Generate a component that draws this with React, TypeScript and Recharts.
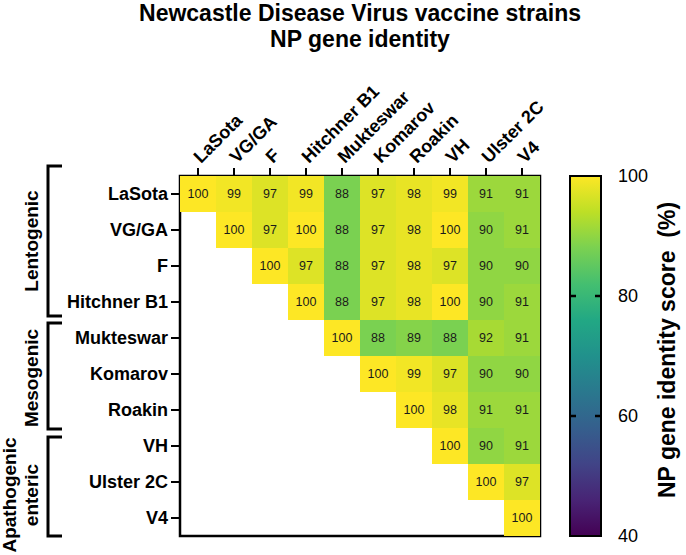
import React from "react";
import {
  ScatterChart,
  Scatter,
  XAxis,
  YAxis,
  ReferenceArea,
  BarChart,
  Bar,
} from "recharts";

const strains = [
  "LaSota",
  "VG/GA",
  "F",
  "Hitchner B1",
  "Mukteswar",
  "Komarov",
  "Roakin",
  "VH",
  "Ulster 2C",
  "V4",
];

// upper triangle of the NP identity matrix (%), null = empty cell
const identityRows: (number | null)[][] = [
  [100, 99, 97, 99, 88, 97, 98, 99, 91, 91],
  [null, 100, 97, 100, 88, 97, 98, 100, 90, 91],
  [null, null, 100, 97, 88, 97, 98, 97, 90, 90],
  [null, null, null, 100, 88, 97, 98, 100, 90, 91],
  [null, null, null, null, 100, 88, 89, 88, 92, 91],
  [null, null, null, null, null, 100, 99, 97, 90, 90],
  [null, null, null, null, null, null, 100, 98, 91, 91],
  [null, null, null, null, null, null, null, 100, 90, 91],
  [null, null, null, null, null, null, null, null, 100, 97],
  [null, null, null, null, null, null, null, null, null, 100],
];

const colorMin = 40;
const colorMax = 100;
const colorTicks = [40, 60, 80, 100];
const innerTicks = [60, 80];

const FONT = "'Liberation Sans', Arial, Helvetica, sans-serif";

// viridis stops, 0 -> 1
const VIRIDIS = [
  "#440154", "#482475", "#414487", "#355f8d", "#2a788e", "#21918c",
  "#22a884", "#44bf70", "#7ad151", "#bddf26", "#fde725",
];

function hexToRgb(h: string) {
  const n = parseInt(h.slice(1), 16);
  return [(n >> 16) & 255, (n >> 8) & 255, n & 255];
}

function viridis(v: number) {
  let t = (v - colorMin) / (colorMax - colorMin);
  t = Math.max(0, Math.min(1, t));
  const pos = t * (VIRIDIS.length - 1);
  const i = Math.min(Math.floor(pos), VIRIDIS.length - 2);
  const f = pos - i;
  const a = hexToRgb(VIRIDIS[i]);
  const b = hexToRgb(VIRIDIS[i + 1]);
  const c = a.map((x, k) => Math.round(x + (b[k] - x) * f));
  return `rgb(${c[0]},${c[1]},${c[2]})`;
}

const W = 686;
const H = 555;
const PLOT_LEFT = 180;
const PLOT_TOP = 176;
const PLOT_SIZE = 360;
const CELL = PLOT_SIZE / strains.length;
const X_AXIS_H = 100;
const Y_AXIS_W = 120;
const BAR_W = 31;
const BAR_X = 540;
const BAR_LEFT = 30;
const BAR_AXIS_W = 45;

const cells = identityRows.flatMap((row, r) =>
  row
    .map((v, c) => (v == null ? null : { x: c + 0.5, y: r + 0.5, v }))
    .filter((d): d is { x: number; y: number; v: number } => d !== null)
);

const centerTicks = strains.map((_, i) => i + 0.5);

function CellShape(props: any) {
  const { cx, cy, payload } = props;
  if (cx == null || cy == null) return null;
  return (
    <g>
      <rect
        x={cx - CELL / 2}
        y={cy - CELL / 2}
        width={CELL}
        height={CELL}
        fill={viridis(payload.v)}
        shapeRendering="crispEdges"
      />
      <text
        x={cx}
        y={cy}
        dy="0.35em"
        textAnchor="middle"
        fontSize={12.5}
        fontFamily={FONT}
        fill="#1a1a1a"
      >
        {payload.v}
      </text>
    </g>
  );
}

function TopTick(props: any) {
  const { x, y, payload } = props;
  const label = strains[Math.floor(payload.value)];
  return (
    <text
      x={x + 3}
      y={y}
      transform={`rotate(-45, ${x + 3}, ${y})`}
      textAnchor="start"
      fontSize={18}
      fontWeight="bold"
      fontFamily={FONT}
      fill="#000"
    >
      {label}
    </text>
  );
}

function LeftTick(props: any) {
  const { x, y, payload } = props;
  return (
    <text
      x={x}
      y={y}
      dy="0.35em"
      textAnchor="end"
      fontSize={18}
      fontWeight="bold"
      fontFamily={FONT}
      fill="#000"
    >
      {strains[Math.floor(payload.value)]}
    </text>
  );
}

function BarTick(props: any) {
  const { x, y, payload } = props;
  return (
    <text
      x={x}
      y={y}
      dy="0.35em"
      textAnchor="start"
      fontSize={18}
      fontFamily={FONT}
      fill="#000"
    >
      {payload.value}
    </text>
  );
}

const groups = [
  { lines: ["Lentogenic"], top: 166, bottom: 316, cy: 241, xs: [38] },
  { lines: ["Mesogenic"], top: 323, bottom: 429, cy: 378, xs: [38] },
  { lines: ["Apathogenic", "enteric"], top: 437, bottom: 536, cy: 495, xs: [16, 38] },
];

const colorBar = [{ name: "scale", range: [colorMin, colorMax] }];

// y of a colour-scale value on the bar
const scaleY = (v: number) =>
  PLOT_TOP + (PLOT_SIZE * (colorMax - v)) / (colorMax - colorMin);

export default function App() {
  const barLeft = BAR_X + BAR_LEFT;
  return (
    <div
      style={{
        position: "absolute",
        left: 0,
        top: 0,
        width: W,
        height: H,
        background: "#fff",
        fontFamily: FONT,
      }}
    >
      <div style={{ position: "absolute", left: 0, top: 0 }}>
        <ScatterChart
          width={W}
          height={H}
          margin={{
            top: PLOT_TOP - X_AXIS_H,
            left: PLOT_LEFT - Y_AXIS_W,
            right: W - PLOT_LEFT - PLOT_SIZE,
            bottom: H - PLOT_TOP - PLOT_SIZE,
          }}
        >
          <XAxis
            type="number"
            dataKey="x"
            orientation="top"
            domain={[0, strains.length]}
            ticks={centerTicks}
            interval={0}
            height={X_AXIS_H}
            axisLine={false}
            tickLine={{ stroke: "#000", strokeWidth: 2 }}
            tickSize={8}
            tickMargin={4}
            tick={<TopTick />}
          />
          <YAxis
            type="number"
            dataKey="y"
            reversed
            domain={[0, strains.length]}
            ticks={centerTicks}
            interval={0}
            width={Y_AXIS_W}
            axisLine={false}
            tickLine={{ stroke: "#000", strokeWidth: 2 }}
            tickSize={9}
            tickMargin={3}
            tick={<LeftTick />}
          />
          <Scatter data={cells} shape={<CellShape />} isAnimationActive={false} />
          <ReferenceArea
            x1={0}
            x2={strains.length}
            y1={0}
            y2={strains.length}
            fill="none"
            fillOpacity={0}
            stroke="#000"
            strokeWidth={2.5}
            strokeOpacity={1}
            ifOverflow="visible"
          />
        </ScatterChart>
      </div>

      {/* colour scale bar */}
      <div style={{ position: "absolute", left: BAR_X, top: 0 }}>
        <BarChart
          width={146}
          height={H}
          data={colorBar}
          barCategoryGap={0}
          margin={{
            top: PLOT_TOP,
            bottom: H - PLOT_TOP - PLOT_SIZE,
            left: BAR_LEFT,
            right: 146 - BAR_LEFT - BAR_W - BAR_AXIS_W,
          }}
        >
          <defs>
            <linearGradient id="viridisBar" x1="0" y1="1" x2="0" y2="0">
              {VIRIDIS.map((c, i) => (
                <stop key={c} offset={`${(i / (VIRIDIS.length - 1)) * 100}%`} stopColor={c} />
              ))}
            </linearGradient>
          </defs>
          <XAxis dataKey="name" hide />
          <YAxis
            orientation="right"
            type="number"
            domain={[colorMin, colorMax]}
            ticks={colorTicks}
            width={BAR_AXIS_W}
            axisLine={false}
            tickLine={false}
            tickMargin={11}
            tick={<BarTick />}
          />
          <Bar
            dataKey="range"
            fill="url(#viridisBar)"
            stroke="#000"
            strokeWidth={2}
            isAnimationActive={false}
          />
        </BarChart>
      </div>

      <svg
        width={W}
        height={H}
        style={{ position: "absolute", left: 0, top: 0, pointerEvents: "none" }}
      >
        {/* inner tick marks on the colour bar edges */}
        {innerTicks.map((t) => (
          <g key={t}>
            <line
              x1={barLeft}
              x2={barLeft + 6}
              y1={scaleY(t)}
              y2={scaleY(t)}
              stroke="#000"
              strokeWidth={2.5}
            />
            <line
              x1={barLeft + BAR_W - 6}
              x2={barLeft + BAR_W}
              y1={scaleY(t)}
              y2={scaleY(t)}
              stroke="#000"
              strokeWidth={2.5}
            />
          </g>
        ))}
        <text
          x={360}
          y={21}
          textAnchor="middle"
          fontSize={23}
          fontWeight="bold"
          fontFamily={FONT}
        >
          Newcastle Disease Virus vaccine strains
        </text>
        <text
          x={360}
          y={47}
          textAnchor="middle"
          fontSize={23}
          fontWeight="bold"
          fontFamily={FONT}
        >
          NP gene identity
        </text>
        {groups.map((g) => (
          <g key={g.lines[0]}>
            <path
              d={`M62,${g.top} H48 V${g.bottom} H62`}
              fill="none"
              stroke="#000"
              strokeWidth={3}
            />
            {g.lines.map((l, i) => (
              <text
                key={l}
                x={g.xs[i]}
                y={g.cy}
                transform={`rotate(-90, ${g.xs[i]}, ${g.cy})`}
                textAnchor="middle"
                fontSize={19}
                fontWeight="bold"
                fontFamily={FONT}
              >
                {l}
              </text>
            ))}
          </g>
        ))}
        <text
          x={675}
          y={350}
          transform="rotate(-90, 675, 350)"
          textAnchor="middle"
          fontSize={23}
          fontWeight="bold"
          fontFamily={FONT}
          style={{ whiteSpace: "pre" }}
        >
          NP gene identity score  (%)
        </text>
      </svg>
    </div>
  );
}
